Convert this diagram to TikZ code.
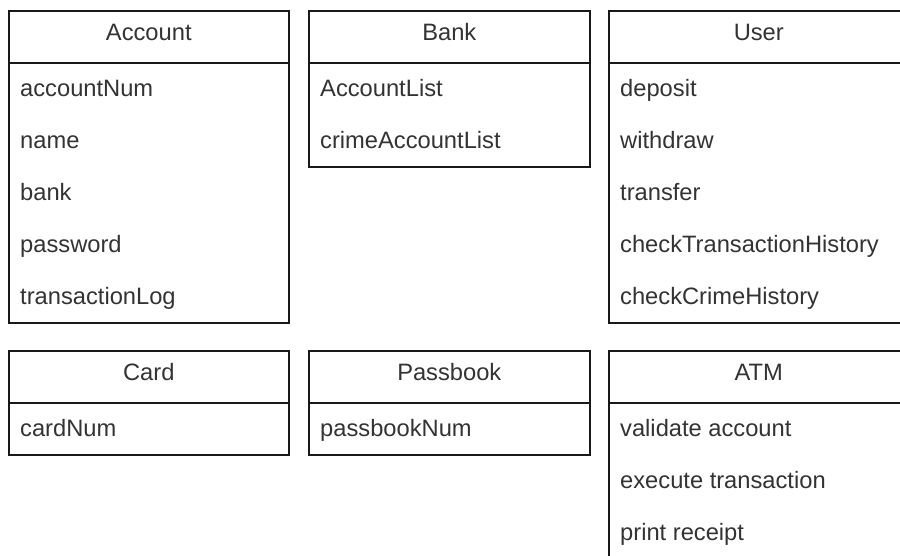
\documentclass[tikz,border=0pt]{standalone}
\usepackage{fontspec}
\setmainfont{Liberation Sans}
\newcommand\clsfont{\fontsize{23.7}{28}\selectfont}
\definecolor{txt}{HTML}{333333}
\tikzset{
  boxline/.style={draw=black!90, line width=1.6pt},
  hdr/.style={boxline, minimum height=52pt, inner sep=0pt, anchor=north west,
              text=txt, font=\clsfont, text height=0.72em, text depth=0pt},
  body/.style={boxline, anchor=north west, inner sep=0pt},
  mem/.style={anchor=base west, text=txt, inner sep=0pt, font=\clsfont}
}
\begin{document}
\begin{tikzpicture}[x=1pt,y=-1pt]
\useasboundingbox (0,0) rectangle (900,556);
\fill[white] (0,0) rectangle (900,556);
\clip (0,0) rectangle (900,556);
% Account
\node[hdr, minimum width=280pt] (acch) at (8,10) {Account};
\node[body, minimum width=280pt, minimum height=260pt] (accb) at (8,62) {};
\node[mem] (acc1) at (20,96.7) {accountNum};
\node[mem] (acc2) at (20,148.7) {name};
\node[mem] (acc3) at (20,200.7) {bank};
\node[mem] (acc4) at (20,252.7) {password};
\node[mem] (acc5) at (20,304.7) {transactionLog};
% Bank
\node[hdr, minimum width=281pt] (bankh) at (308,10) {Bank};
\node[body, minimum width=281pt, minimum height=104pt] (bankb) at (308,62) {};
\node[mem] (bank1) at (320,96.7) {AccountList};
\node[mem] (bank2) at (320,148.7) {crimeAccountList};
% User
\node[hdr, minimum width=300pt] (userh) at (608,10) {User};
\node[body, minimum width=300pt, minimum height=260pt] (userb) at (608,62) {};
\node[mem] (user1) at (620,96.7) {deposit};
\node[mem] (user2) at (620,148.7) {withdraw};
\node[mem] (user3) at (620,200.7) {transfer};
\node[mem] (user4) at (620,252.7) {checkTransactionHistory};
\node[mem] (user5) at (620,304.7) {checkCrimeHistory};
% Card
\node[hdr, minimum width=280pt] (cardh) at (8,350) {Card};
\node[body, minimum width=280pt, minimum height=52pt] (cardb) at (8,402) {};
\node[mem] (card1) at (20,436.7) {cardNum};
% Passbook
\node[hdr, minimum width=281pt] (passh) at (308,350) {Passbook};
\node[body, minimum width=281pt, minimum height=52pt] (passb) at (308,402) {};
\node[mem] (pass1) at (320,436.7) {passbookNum};
% ATM
\node[hdr, minimum width=300pt] (atmh) at (608,350) {ATM};
\node[body, minimum width=300pt, minimum height=160pt] (atmb) at (608,402) {};
\node[mem] (atm1) at (620,436.7) {validate account};
\node[mem] (atm2) at (620,488.7) {execute transaction};
\node[mem] (atm3) at (620,540.7) {print receipt};
\end{tikzpicture}
\end{document}
